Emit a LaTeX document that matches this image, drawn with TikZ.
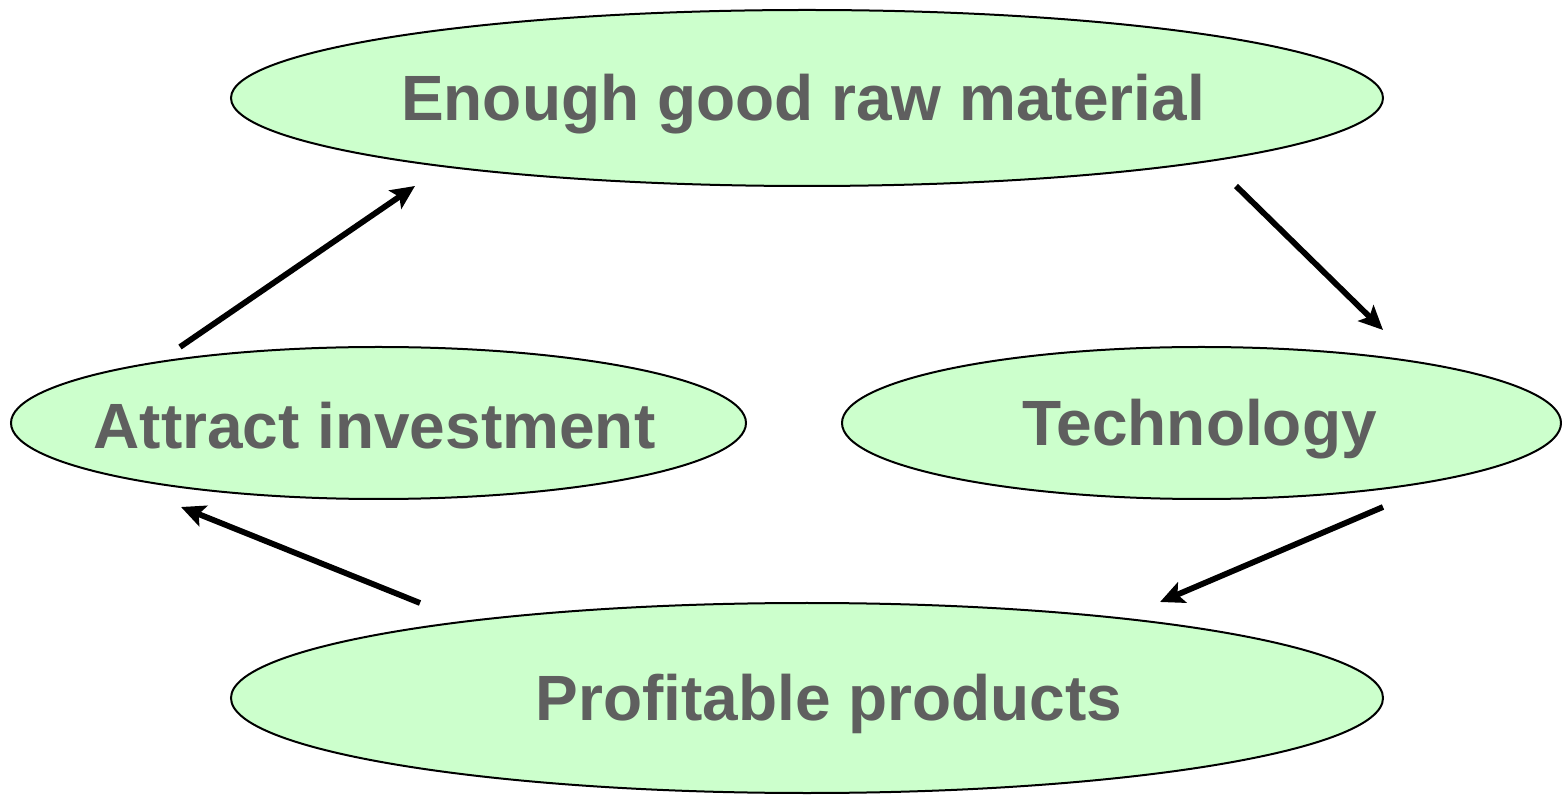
\documentclass[tikz,border=0pt]{standalone}
\usepackage{fontspec}
\setmainfont{Liberation Sans}
\usetikzlibrary{shapes.geometric,arrows.meta}
\definecolor{fillgreen}{HTML}{CCFFCC}
\definecolor{txtgray}{HTML}{5F5F5F}
\begin{document}
\begin{tikzpicture}[x=0.5pt,y=-0.5pt,
  oval/.style={ellipse,draw=black,line width=1pt,fill=fillgreen,inner sep=0pt,outer sep=0pt},
  lbl/.style={text=txtgray,font=\fontsize{32pt}{38pt}\selectfont\bfseries,inner sep=0pt},
  arr/.style={line width=2.9pt,-{Stealth[length=12pt,width=11pt,inset=2.5pt]}}]
\useasboundingbox (0,0) rectangle (1562,795);
\node[oval,minimum width=576pt,minimum height=88pt] (top) at (807,98) {};
\node[oval,minimum width=367.5pt,minimum height=76pt] (att) at (378.5,423) {};
\node[oval,minimum width=359.5pt,minimum height=76pt] (tech) at (1201.5,423) {};
\node[oval,minimum width=576pt,minimum height=95pt] (prof) at (807,698) {};
\node[lbl] (ttop) at ([xshift=-2pt,yshift=-3pt]top.center) {Enough good raw material};
\node[lbl] (tatt) at ([xshift=-2pt,yshift=-1.5pt]att.center) {Attract investment};
\node[lbl] (ttech) at ([xshift=-1pt,yshift=-3pt]tech.center) {Technology};
\node[lbl] (tprof) at ([xshift=11pt,yshift=-3pt]prof.center) {Profitable products};
\coordinate (a1s) at (180,347); \coordinate (a1e) at (415,186);
\coordinate (a2s) at (1236,186); \coordinate (a2e) at (1383,330);
\coordinate (a3s) at (1383,507); \coordinate (a3e) at (1160,602);
\coordinate (a4s) at (420,603); \coordinate (a4e) at (181,507);
\draw[arr] (a1s) -- (a1e);
\draw[arr] (a2s) -- (a2e);
\draw[arr] (a3s) -- (a3e);
\draw[arr] (a4s) -- (a4e);
\end{tikzpicture}
\end{document}
